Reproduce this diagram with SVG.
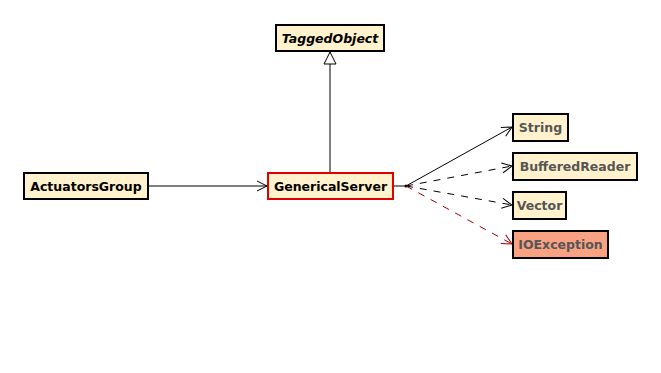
<svg xmlns="http://www.w3.org/2000/svg" width="661" height="373" viewBox="0 0 661 373">
  <defs>
    <style>
      .box { fill: #fff2cc; stroke: #000; stroke-width: 2; }
      .sel { stroke: #e00000; }
      .exc { fill: #f9a183; }
      .lbl { font-family: "DejaVu Sans", sans-serif; font-size: 12.5px; font-weight: bold; fill: #000; }
      .dim { fill: #555555; }
      .ital { font-style: italic; }
      .edge { fill: none; stroke: #000; stroke-width: 1; }
      .dash { stroke-dasharray: 7,7; }
      .red { stroke: #a00000; }
    </style>
    <marker id="open" markerWidth="12" markerHeight="12" refX="11" refY="6" orient="auto" markerUnits="userSpaceOnUse">
      <path d="M1,1 L11,6 L1,11" fill="none" stroke="#000" stroke-width="1"/>
    </marker>
    <marker id="openRed" markerWidth="12" markerHeight="12" refX="11" refY="6" orient="auto" markerUnits="userSpaceOnUse">
      <path d="M1,1 L11,6 L1,11" fill="none" stroke="#a00000" stroke-width="1"/>
    </marker>
    <marker id="tri" markerWidth="14" markerHeight="14" refX="13" refY="7" orient="auto" markerUnits="userSpaceOnUse">
      <path d="M1,1 L13,7 L1,13 Z" fill="#fff" stroke="#000" stroke-width="1"/>
    </marker>
  </defs>

  <g id="connectors">
    <line class="edge" x1="148" y1="186" x2="267" y2="186" marker-end="url(#open)"/>
    <line class="edge" x1="330" y1="173" x2="330" y2="52" marker-end="url(#tri)"/>
    <line class="edge" x1="393" y1="186" x2="406" y2="186"/>
    <circle cx="406" cy="186" r="1.5" fill="#000"/>
    <line class="edge" x1="406" y1="186" x2="512" y2="127" marker-end="url(#open)"/>
    <line class="edge dash" x1="406" y1="186" x2="512" y2="166" marker-end="url(#open)"/>
    <line class="edge dash" x1="406" y1="186" x2="512" y2="205" marker-end="url(#open)"/>
    <line class="edge dash red" x1="406" y1="186" x2="512" y2="244" marker-end="url(#openRed)"/>
  </g>

  <g id="TaggedObject">
    <rect class="box" x="276" y="25" width="108" height="26"/>
    <text class="lbl ital" x="330" y="42.5" text-anchor="middle">TaggedObject</text>
  </g>

  <g id="ActuatorsGroup">
    <rect class="box" x="24" y="173" width="124" height="26"/>
    <text class="lbl" x="86" y="190.5" text-anchor="middle">ActuatorsGroup</text>
  </g>

  <g id="GenericalServer">
    <rect class="box sel" x="268" y="173" width="125" height="26"/>
    <text class="lbl" x="330.5" y="190.5" text-anchor="middle">GenericalServer</text>
  </g>

  <g id="String">
    <rect class="box" x="513" y="114" width="55" height="27"/>
    <text class="lbl dim" x="540.5" y="132" text-anchor="middle">String</text>
  </g>

  <g id="BufferedReader">
    <rect class="box" x="513" y="153" width="124" height="27"/>
    <text class="lbl dim" x="575" y="171" text-anchor="middle">BufferedReader</text>
  </g>

  <g id="Vector">
    <rect class="box" x="513" y="192" width="53" height="27"/>
    <text class="lbl dim" x="539.5" y="210" text-anchor="middle">Vector</text>
  </g>

  <g id="IOException">
    <rect class="box exc" x="513" y="231" width="95" height="27"/>
    <text class="lbl dim" x="560.5" y="249" text-anchor="middle">IOException</text>
  </g>
</svg>
